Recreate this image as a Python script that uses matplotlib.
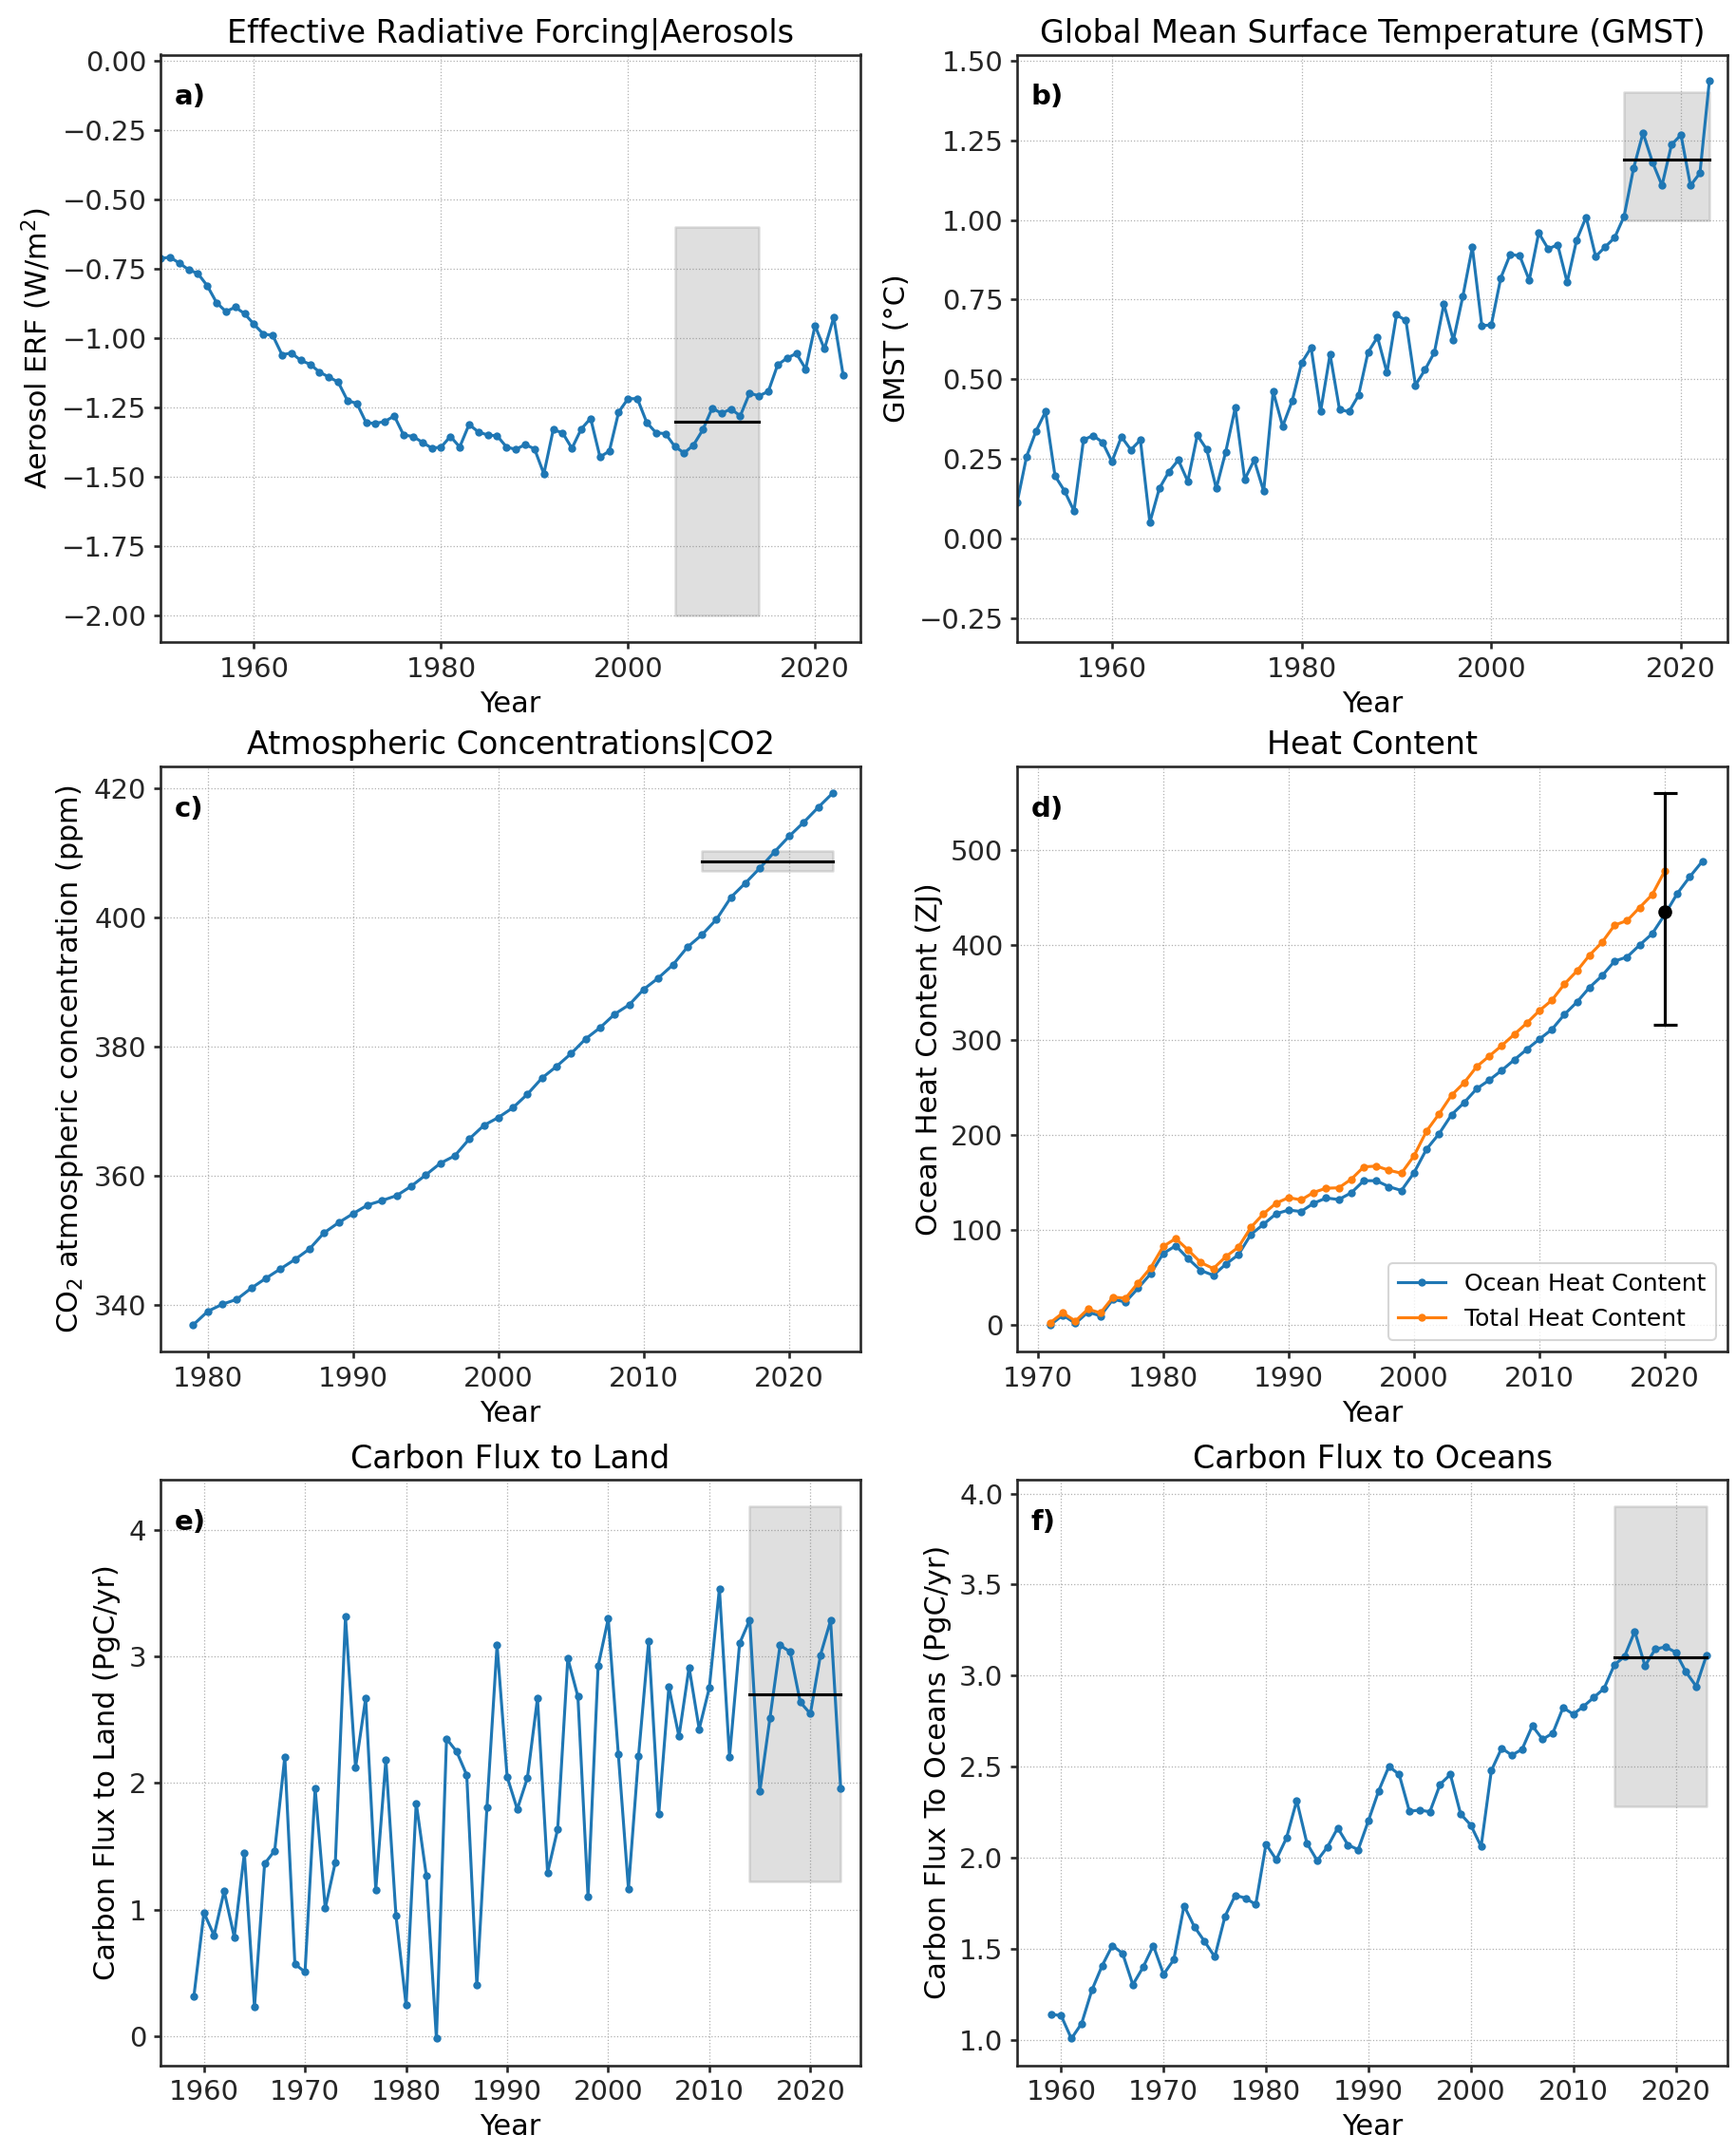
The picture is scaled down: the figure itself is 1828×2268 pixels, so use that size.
import numpy as np
import matplotlib
matplotlib.use("Agg")
import matplotlib.pyplot as plt

# ---------------- data ----------------
years_a = list(range(1950, 2024))
erf_aer = [-0.713, -0.708, -0.729, -0.753, -0.767, -0.811, -0.872, -0.904, -0.888, -0.912,
           -0.950, -0.985, -0.990, -1.060, -1.053, -1.080, -1.094, -1.122, -1.140, -1.158,
           -1.225, -1.235, -1.305, -1.307, -1.300, -1.280, -1.349, -1.354, -1.375, -1.396,
           -1.393, -1.354, -1.392, -1.311, -1.338, -1.349, -1.352, -1.392, -1.401, -1.383,
           -1.399, -1.489, -1.330, -1.341, -1.397, -1.327, -1.289, -1.428, -1.407, -1.266,
           -1.218, -1.218, -1.304, -1.341, -1.344, -1.390, -1.414, -1.385, -1.330, -1.252,
           -1.271, -1.255, -1.280, -1.198, -1.208, -1.192, -1.096, -1.072, -1.055, -1.111,
           -0.955, -1.039, -0.925, -1.132]
erf_box = [2005, 2014, -2.0, -0.6]
erf_ref = -1.30

years_b = list(range(1950, 2024))
gmst = [0.112, 0.257, 0.337, 0.398, 0.196, 0.149, 0.086, 0.309, 0.323, 0.302,
        0.241, 0.319, 0.278, 0.309, 0.050, 0.157, 0.209, 0.246, 0.179, 0.324,
        0.279, 0.157, 0.272, 0.410, 0.185, 0.246, 0.148, 0.461, 0.352, 0.431,
        0.551, 0.599, 0.398, 0.578, 0.404, 0.398, 0.449, 0.584, 0.632, 0.520,
        0.702, 0.684, 0.481, 0.529, 0.584, 0.736, 0.622, 0.760, 0.914, 0.668,
        0.670, 0.818, 0.892, 0.887, 0.811, 0.959, 0.909, 0.922, 0.804, 0.937,
        1.009, 0.885, 0.915, 0.944, 1.011, 1.162, 1.273, 1.181, 1.108, 1.236,
        1.267, 1.108, 1.147, 1.438]
gmst_box = [2014, 2023, 1.0, 1.4]
gmst_ref = 1.19

years_c = list(range(1979, 2024))
co2 = [336.98, 339.07, 340.17, 340.93, 342.67, 344.18, 345.64, 347.09, 348.72, 351.21,
       352.78, 354.18, 355.51, 356.21, 356.97, 358.42, 360.16, 361.96, 363.13, 365.74,
       367.83, 369.05, 370.56, 372.66, 375.15, 376.95, 378.93, 381.20, 382.94, 385.03,
       386.48, 388.87, 390.61, 392.64, 395.38, 397.29, 399.67, 403.10, 405.31, 407.64,
       410.13, 412.52, 414.67, 416.99, 419.20]
co2_box = [2014, 2023, 407.1, 410.3]
co2_ref = 408.7

years_ohc = list(range(1971, 2024))
ohc = [0.0, 10.3, 1.6, 13.4, 9.5, 26.9, 24.1, 38.7, 53.8, 75.1,
       83.4, 69.6, 57.3, 52.2, 64.0, 73.9, 95.3, 105.9, 117.0, 120.9,
       119.4, 128.1, 133.6, 132.0, 139.1, 151.8, 151.8, 145.5, 141.5, 160.1,
       185.0, 201.2, 221.3, 234.0, 248.6, 257.7, 268.0, 279.1, 290.1, 300.8,
       311.1, 326.9, 339.9, 355.3, 367.6, 383.0, 387.4, 400.0, 411.9, 432.0,
       454.2, 471.9, 488.1]
years_thc = list(range(1971, 2021))
thc = [2.4, 12.6, 4.0, 16.6, 12.6, 29.2, 28.1, 44.3, 60.1, 82.6,
       90.9, 78.7, 65.6, 59.3, 71.9, 81.8, 102.8, 117.0, 128.1, 134.0,
       131.6, 139.5, 143.9, 144.3, 153.4, 166.4, 167.2, 162.8, 159.7, 177.9,
       204.0, 222.1, 241.9, 254.9, 271.9, 283.0, 294.1, 305.9, 317.8, 330.8,
       341.9, 358.9, 372.7, 389.3, 402.8, 420.9, 425.7, 439.5, 453.0, 477.9]
ohc_assess_year = 2020
ohc_assess = 435.0
ohc_assess_low = 316.0
ohc_assess_high = 560.0

years_e = list(range(1959, 2024))
land_flux = [0.311, 0.974, 0.796, 1.146, 0.782, 1.445, 0.228, 1.362, 1.466, 2.209,
             0.568, 0.506, 1.960, 1.010, 1.374, 3.316, 2.123, 2.671, 1.158, 2.185,
             0.950, 0.243, 1.842, 1.270, -0.021, 2.351, 2.250, 2.064, 0.400, 1.809,
             3.091, 2.049, 1.794, 2.040, 2.671, 1.291, 1.637, 2.987, 2.685, 1.104,
             2.925, 3.301, 2.229, 1.164, 2.215, 3.121, 1.756, 2.759, 2.369, 2.916,
             2.428, 2.753, 3.538, 2.206, 3.106, 3.292, 1.936, 2.514, 3.091, 3.038,
             2.641, 2.549, 3.014, 3.286, 1.957]
land_box = [2014, 2023, 1.22, 4.19]
land_ref = 2.70

years_f = list(range(1959, 2024))
ocean_flux = [1.140, 1.132, 1.006, 1.089, 1.272, 1.406, 1.517, 1.474, 1.302, 1.398,
              1.517, 1.359, 1.440, 1.736, 1.621, 1.540, 1.455, 1.678, 1.793, 1.778,
              1.742, 2.074, 1.989, 2.108, 2.314, 2.078, 1.984, 2.059, 2.163, 2.070,
              2.044, 2.203, 2.367, 2.501, 2.457, 2.255, 2.261, 2.252, 2.403, 2.457,
              2.240, 2.178, 2.061, 2.478, 2.601, 2.563, 2.595, 2.724, 2.650, 2.684,
              2.824, 2.788, 2.831, 2.880, 2.929, 3.058, 3.105, 3.243, 3.054, 3.145,
              3.158, 3.128, 3.020, 2.941, 3.111]
ocean_box = [2014, 2023, 2.28, 3.93]
ocean_ref = 3.10

# ---------------- style ----------------
plt.rcParams.update({
    "font.family": ["DejaVu Sans"],
    "font.size": 14,
    "axes.titlesize": 16,
    "axes.labelsize": 14.5,
    "xtick.labelsize": 14,
    "ytick.labelsize": 14,
    "axes.edgecolor": "#262626",
    "axes.linewidth": 1.25,
    "xtick.color": "#262626",
    "ytick.color": "#262626",
    "xtick.major.width": 1.25,
    "ytick.major.width": 1.25,
    "axes.unicode_minus": True,
})

W, H = 1828, 2268
DPI = 150
fig = plt.figure(figsize=(W / DPI, H / DPI), dpi=DPI)

def rect(l, r, t, b):
    return [l / W, 1 - b / H, (r - l) / W, (b - t) / H]

rows = [(57.5, 676), (807, 1423), (1558, 2174.5)]
cols = [(169, 906), (1071, 1819)]

axes = []
for (t, b) in rows:
    for (l, r) in cols:
        axes.append(fig.add_axes(rect(l, r, t, b)))
ax_a, ax_b, ax_c, ax_d, ax_e, ax_f = axes

BLUE = "#1f77b4"
ORANGE = "#ff7f0e"

def style(ax, label):
    ax.grid(True, linestyle=":", color="#b0b0b0", linewidth=0.6)
    ax.set_axisbelow(True)
    ax.text(0.02, 0.95, label, transform=ax.transAxes, fontsize=14,
            fontweight="bold", ha="left", va="top")
    ax.set_xlabel("Year")

def box(ax, bx, ref):
    x0, x1, y0, y1 = bx
    ax.fill_between([x0, x1], [y0, y0], [y1, y1], color="grey", alpha=0.25,
                    linewidth=1.2, zorder=1)
    ax.plot([x0, x1], [ref, ref], color="black", linewidth=1.5, zorder=3)

# a)
ax_a.plot(years_a, erf_aer, marker=".", color=BLUE, zorder=2)
box(ax_a, erf_box, erf_ref)
ax_a.set_title("Effective Radiative Forcing|Aerosols")
ax_a.set_ylabel("Aerosol ERF (W/m$^2$)")
ax_a.set_xlim(1950, 2024.85)
ax_a.set_ylim(-2.095, 0.022)
ax_a.set_xticks([1960, 1980, 2000, 2020])
ax_a.set_yticks(np.arange(-2.0, 0.01, 0.25))
style(ax_a, "a)")

# b)
ax_b.plot(years_b, gmst, marker=".", color=BLUE, zorder=2)
box(ax_b, gmst_box, gmst_ref)
ax_b.set_title("Global Mean Surface Temperature (GMST)")
ax_b.set_ylabel("GMST (°C)")
ax_b.set_xlim(1950, 2024.9)
ax_b.set_ylim(-0.3255, 1.519)
ax_b.set_xticks([1960, 1980, 2000, 2020])
ax_b.set_yticks(np.arange(-0.25, 1.51, 0.25))
style(ax_b, "b)")

# c)
ax_c.plot(years_c, co2, marker=".", color=BLUE, zorder=2)
box(ax_c, co2_box, co2_ref)
ax_c.set_title("Atmospheric Concentrations|CO2")
ax_c.set_ylabel("CO$_2$ atmospheric concentration (ppm)")
ax_c.set_xlim(1976.75, 2024.9)
ax_c.set_xticks([1980, 1990, 2000, 2010, 2020])
ax_c.set_yticks([340, 360, 380, 400, 420])
style(ax_c, "c)")

# d)
ax_d.plot(years_ohc, ohc, marker=".", color=BLUE, label="Ocean Heat Content", zorder=2)
ax_d.plot(years_thc, thc, marker=".", color=ORANGE, label="Total Heat Content", zorder=2)
ax_d.errorbar([ohc_assess_year], [ohc_assess],
              yerr=[[ohc_assess - ohc_assess_low], [ohc_assess_high - ohc_assess]],
              fmt="o", color="black", capsize=6, markersize=6, elinewidth=1.5,
              capthick=1.5, zorder=4)
ax_d.set_title("Heat Content")
ax_d.set_ylabel("Ocean Heat Content (ZJ)")
ax_d.set_xlim(1968.35, 2025.0)
ax_d.set_xticks([1970, 1980, 1990, 2000, 2010, 2020])
ax_d.set_yticks([0, 100, 200, 300, 400, 500])
ax_d.legend(loc="lower right", fontsize=12)
style(ax_d, "d)")

# e)
ax_e.plot(years_e, land_flux, marker=".", color=BLUE, zorder=2)
box(ax_e, land_box, land_ref)
ax_e.set_title("Carbon Flux to Land")
ax_e.set_ylabel("Carbon Flux to Land (PgC/yr)")
ax_e.set_xlim(1955.7, 2024.95)
ax_e.set_xticks([1960, 1970, 1980, 1990, 2000, 2010, 2020])
ax_e.set_yticks([0, 1, 2, 3, 4])
style(ax_e, "e)")

# f)
ax_f.plot(years_f, ocean_flux, marker=".", color=BLUE, zorder=2)
box(ax_f, ocean_box, ocean_ref)
ax_f.set_title("Carbon Flux to Oceans")
ax_f.set_ylabel("Carbon Flux To Oceans (PgC/yr)")
ax_f.set_xlim(1955.7, 2025.05)
ax_f.set_xticks([1960, 1970, 1980, 1990, 2000, 2010, 2020])
ax_f.set_yticks([1.0, 1.5, 2.0, 2.5, 3.0, 3.5, 4.0])
style(ax_f, "f)")

fig.savefig("out.png", dpi=DPI)
